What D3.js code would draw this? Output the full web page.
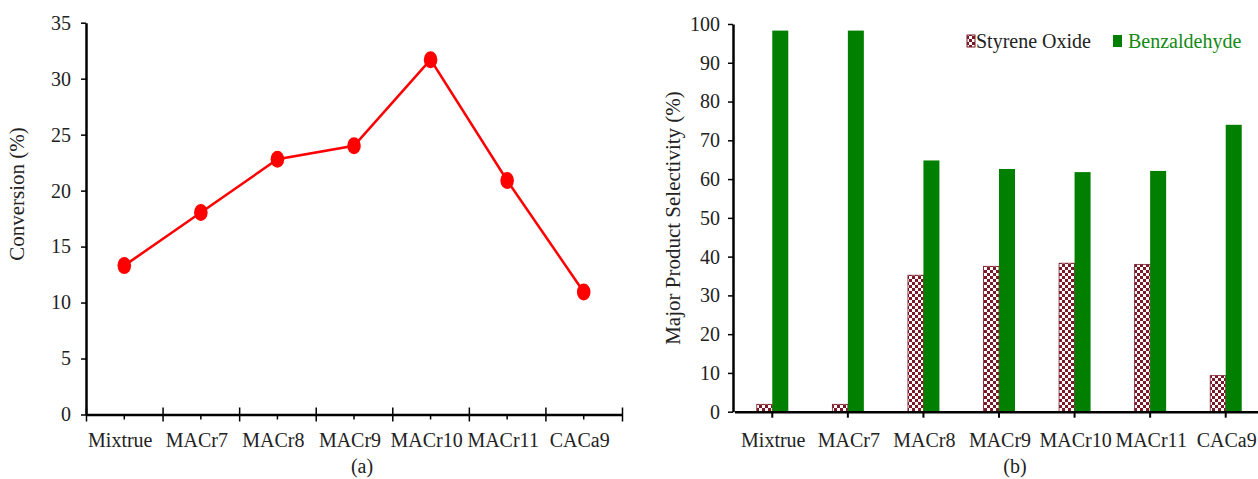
<!DOCTYPE html>
<head>
    <meta charset="utf-8">
    <script src="https://d3js.org/d3.v7.min.js"></script>
    <style>
        body { margin:0; background:#fff; }
        text { font-family: "Liberation Serif", "Times New Roman", serif; }
    </style>
</head>
<body>
<script>
    var categories = ["Mixtrue", "MACr7", "MACr8", "MACr9", "MACr10", "MACr11", "CACa9"];
    var conversion = [13.3, 18.05, 22.8, 24.0, 31.7, 20.9, 10.95];
    var styreneOxide = [1.9, 1.9, 35.2, 37.5, 38.3, 38.0, 9.3];
    var benzaldehyde = [98.3, 98.3, 64.8, 62.6, 61.8, 62.1, 74.0];
    var convTicks = [0, 5, 10, 15, 20, 25, 30, 35];
    var selTicks = [0, 10, 20, 30, 40, 50, 60, 70, 80, 90, 100];

    var fs = 20;      // ticks, categories, legend
    var fsTitle = 21; // axis titles

    var svg = d3.select("body").append("svg")
        .attr("width", 1258)
        .attr("height", 479);

    var defs = svg.append("defs");
    var pat = defs.append("pattern")
        .attr("id", "checker")
        .attr("patternUnits", "userSpaceOnUse")
        .attr("width", 6).attr("height", 6);
    pat.append("rect").attr("width", 6).attr("height", 6).attr("fill", "#fff");
    pat.append("rect").attr("width", 3).attr("height", 3).attr("fill", "#7a1a28");
    pat.append("rect").attr("x", 3).attr("y", 3).attr("width", 3).attr("height", 3).attr("fill", "#7a1a28");

    // ---------- (a) conversion line chart ----------
    var x1 = d3.scaleBand().domain(categories).range([86, 622]);
    var y1 = d3.scaleLinear().domain([0, 35]).range([414.5, 22.7]);
    var xb1 = d3.scaleLinear().domain([0, 7]).range([86, 622]);

    var gy1 = svg.append("g")
        .attr("transform", "translate(86,0)")
        .call(d3.axisLeft(y1).tickValues(convTicks).tickSize(5).tickPadding(10).tickSizeOuter(0));
    gy1.selectAll("text").attr("font-size", fs).attr("fill", "#222");

    var gx1 = svg.append("g")
        .attr("transform", "translate(0,414.5)")
        .call(d3.axisBottom(xb1).tickValues(d3.range(8)).tickSize(7).tickFormat("").tickSizeOuter(0));
    gx1.selectAll(".tick line").attr("y1", -7);

    // minor ticks at category centres
    svg.append("g").selectAll("line")
        .data(categories).enter().append("line")
        .attr("x1", function(d) { return x1(d) + x1.bandwidth() / 2; })
        .attr("x2", function(d) { return x1(d) + x1.bandwidth() / 2; })
        .attr("y1", 414.5).attr("y2", 419.5)
        .attr("stroke", "#000").attr("stroke-width", 1.5);

    svg.append("g").selectAll("text")
        .data(categories).enter().append("text")
        .attr("x", function(d) { return x1(d) + x1.bandwidth() / 2 - 4; })
        .attr("y", 447)
        .attr("text-anchor", "middle")
        .attr("font-size", fs).attr("fill", "#222")
        .text(function(d) { return d; });

    svg.selectAll(".domain").attr("stroke-width", 2.5);
    svg.selectAll(".tick line").attr("stroke-width", 1.5);

    var line = d3.line()
        .x(function(d, i) { return x1(categories[i]) + x1.bandwidth() / 2; })
        .y(function(d) { return y1(d); });

    svg.append("path")
        .attr("d", line(conversion))
        .attr("fill", "none")
        .attr("stroke", "#ff0000")
        .attr("stroke-width", 2.5);

    svg.append("g").selectAll("ellipse")
        .data(conversion).enter().append("ellipse")
        .attr("cx", function(d, i) { return x1(categories[i]) + x1.bandwidth() / 2; })
        .attr("cy", function(d) { return y1(d); })
        .attr("rx", 6.8).attr("ry", 8.5)
        .attr("fill", "#ff0000");

    svg.append("text")
        .attr("transform", "translate(24,194) rotate(-90)")
        .attr("text-anchor", "middle")
        .attr("font-size", fsTitle).attr("fill", "#222")
        .text("Conversion (%)");

    svg.append("text")
        .attr("x", 362).attr("y", 473)
        .attr("text-anchor", "middle")
        .attr("font-size", fs).attr("fill", "#222")
        .text("(a)");

    // ---------- (b) selectivity bar chart ----------
    var x2 = d3.scaleBand().domain(categories).range([734.5, 1263.5]);
    var y2 = d3.scaleLinear().domain([0, 100]).range([411.7, 24]);
    var barW = 15.5;

    var gy2 = svg.append("g")
        .attr("transform", "translate(733,0)")
        .call(d3.axisLeft(y2).tickValues(selTicks).tickSize(5).tickPadding(8).tickSizeOuter(0));
    gy2.selectAll("text").attr("font-size", fs).attr("fill", "#222");
    gy2.select(".domain").attr("stroke-width", 2.5);
    gy2.selectAll(".tick line").attr("stroke-width", 1.5);

    svg.append("g").selectAll("rect")
        .data(styreneOxide).enter().append("rect")
        .attr("x", function(d, i) { return x2(categories[i]) + x2.bandwidth() / 2 - barW; })
        .attr("y", function(d) { return y2(d); })
        .attr("width", barW)
        .attr("height", function(d) { return y2(0) - y2(d); })
        .attr("fill", "url(#checker)")
        .attr("stroke", "#7a1a28").attr("stroke-width", 0.8);

    svg.append("g").selectAll("rect")
        .data(benzaldehyde).enter().append("rect")
        .attr("x", function(d, i) { return x2(categories[i]) + x2.bandwidth() / 2; })
        .attr("y", function(d) { return y2(d); })
        .attr("width", barW + 0.5)
        .attr("height", function(d) { return y2(0) - y2(d); })
        .attr("fill", "#007f00");

    var gx2 = svg.append("g")
        .attr("transform", "translate(0,411.7)")
        .call(d3.axisBottom(x2).tickSize(6).tickFormat("").tickSizeOuter(0));
    gx2.select(".domain").attr("stroke-width", 2.5);
    gx2.selectAll(".tick line").attr("stroke-width", 2);

    svg.append("g").selectAll("text")
        .data(categories).enter().append("text")
        .attr("x", function(d) { return x2(d) + x2.bandwidth() / 2 + 1; })
        .attr("y", 447)
        .attr("text-anchor", "middle")
        .attr("font-size", fs).attr("fill", "#222")
        .text(function(d) { return d; });

    svg.append("text")
        .attr("transform", "translate(680,218) rotate(-90)")
        .attr("text-anchor", "middle")
        .attr("font-size", fsTitle).attr("fill", "#222")
        .text("Major Product Selectivity (%)");

    svg.append("text")
        .attr("x", 1015).attr("y", 473)
        .attr("text-anchor", "middle")
        .attr("font-size", fs).attr("fill", "#222")
        .text("(b)");

    // legend
    svg.append("rect")
        .attr("x", 967).attr("y", 35).attr("width", 8).attr("height", 12)
        .attr("fill", "url(#checker)").attr("stroke", "#7a1a28").attr("stroke-width", 1);
    svg.append("text")
        .attr("x", 976).attr("y", 48)
        .attr("font-size", fs).attr("fill", "#222")
        .text("Styrene Oxide");
    svg.append("rect")
        .attr("x", 1113).attr("y", 35).attr("width", 9).attr("height", 12)
        .attr("fill", "#007f00");
    svg.append("text")
        .attr("x", 1128).attr("y", 48)
        .attr("font-size", fs).attr("fill", "#138a13")
        .text("Benzaldehyde");
</script>
</body>
